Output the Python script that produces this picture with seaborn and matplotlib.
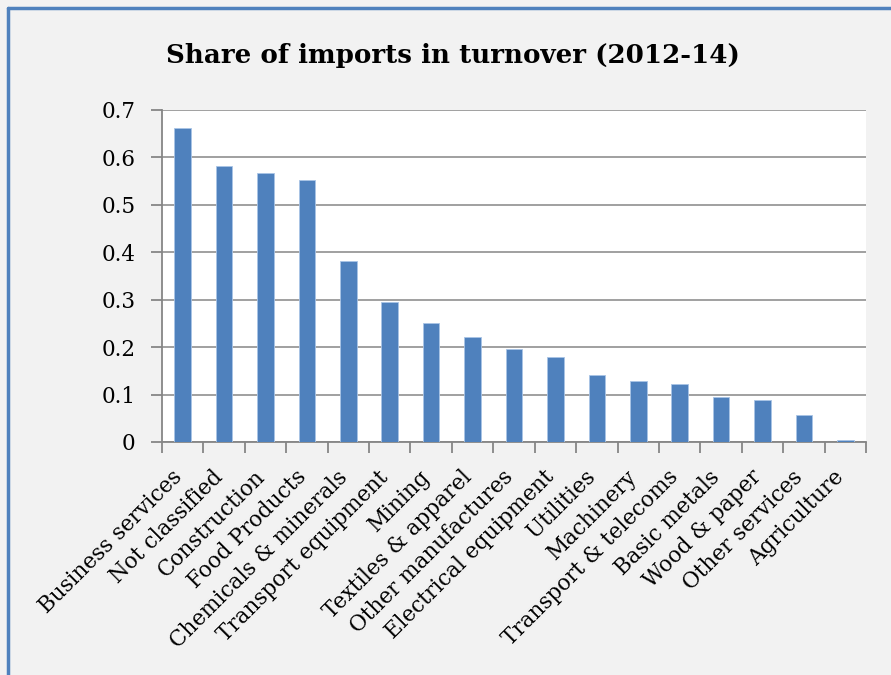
import matplotlib
matplotlib.use("Agg")
import matplotlib.pyplot as plt
import seaborn as sns
import pandas as pd
from matplotlib.lines import Line2D

categories = ["Business services", "Not classified", "Construction", "Food Products",
              "Chemicals & minerals", "Transport equipment", "Mining", "Textiles & apparel",
              "Other manufactures", "Electrical equipment", "Utilities", "Machinery",
              "Transport & telecoms", "Basic metals", "Wood & paper", "Other services",
              "Agriculture"]
values = [0.663, 0.582, 0.568, 0.552, 0.381, 0.296, 0.251, 0.221, 0.196, 0.179,
          0.141, 0.128, 0.123, 0.095, 0.088, 0.056, 0.005]
yticks = [0, 0.1, 0.2, 0.3, 0.4, 0.5, 0.6, 0.7]
ytick_labels = ["0", "0.1", "0.2", "0.3", "0.4", "0.5", "0.6", "0.7"]
title = "Share of imports in turnover (2012-14)"

sns.set_theme(style="white")
plt.rcParams["font.family"] = ["DejaVu Serif"]
plt.rcParams["text.color"] = "black"
plt.rcParams["xtick.color"] = "black"
plt.rcParams["ytick.color"] = "black"

df = pd.DataFrame({"cat": categories, "val": values})
W, H = 891, 675
fig = plt.figure(figsize=(W / 100, H / 100), dpi=100)
fig.patch.set_facecolor("#f2f2f2")
ax = fig.add_axes([162 / W, 1 - 442 / H, (866 - 162) / W, (442 - 110) / H])
ax.set_facecolor("white")

sns.barplot(data=df, x="cat", y="val", color="#4f81bd", saturation=1, width=0.4,
            edgecolor="#a9c4e6", linewidth=0.6, ax=ax, zorder=3)

ax.set_ylim(0, 0.7)
ax.set_xlim(-0.5, len(categories) - 0.5)
ax.set_yticks(yticks)
ax.set_yticklabels(ytick_labels, fontsize=15.5)
ax.yaxis.grid(True, color="#868686", linewidth=1.1, zorder=0)
ax.set_axisbelow(True)
for s in ["top", "right"]:
    ax.spines[s].set_visible(False)
for s in ["left", "bottom"]:
    ax.spines[s].set_color("#868686")
    ax.spines[s].set_linewidth(1.3)
ax.tick_params(axis="y", which="both", left=True, length=8, width=1.3, color="#868686",
               pad=11, labelcolor="black")
ax.set_xticks([i - 0.5 for i in range(len(categories) + 1)], minor=True)
ax.set_xticks(range(len(categories)))
ax.tick_params(axis="x", which="minor", bottom=True, length=8, width=1.3, color="#868686")
ax.tick_params(axis="x", which="major", bottom=False, length=0, pad=26, labelcolor="black")
ax.set_xticklabels(categories, rotation=45, ha="right", va="baseline",
                   rotation_mode="anchor", fontsize=15.5)
ax.set_xlabel("")
ax.set_ylabel("")

fig.text(453 / W, 1 - 55 / H, title, ha="center", va="center", fontsize=18.8,
         fontweight="bold", color="black")

# outer chart border (left and top visible)
fig.add_artist(Line2D([8 / W, 8 / W], [0, 1 - 8 / H], transform=fig.transFigure,
                      color="#4f81bd", linewidth=2.5))
fig.add_artist(Line2D([8 / W, 1], [1 - 8 / H, 1 - 8 / H], transform=fig.transFigure,
                      color="#4f81bd", linewidth=2.5))

fig.savefig("out.png", dpi=100, facecolor=fig.get_facecolor())
